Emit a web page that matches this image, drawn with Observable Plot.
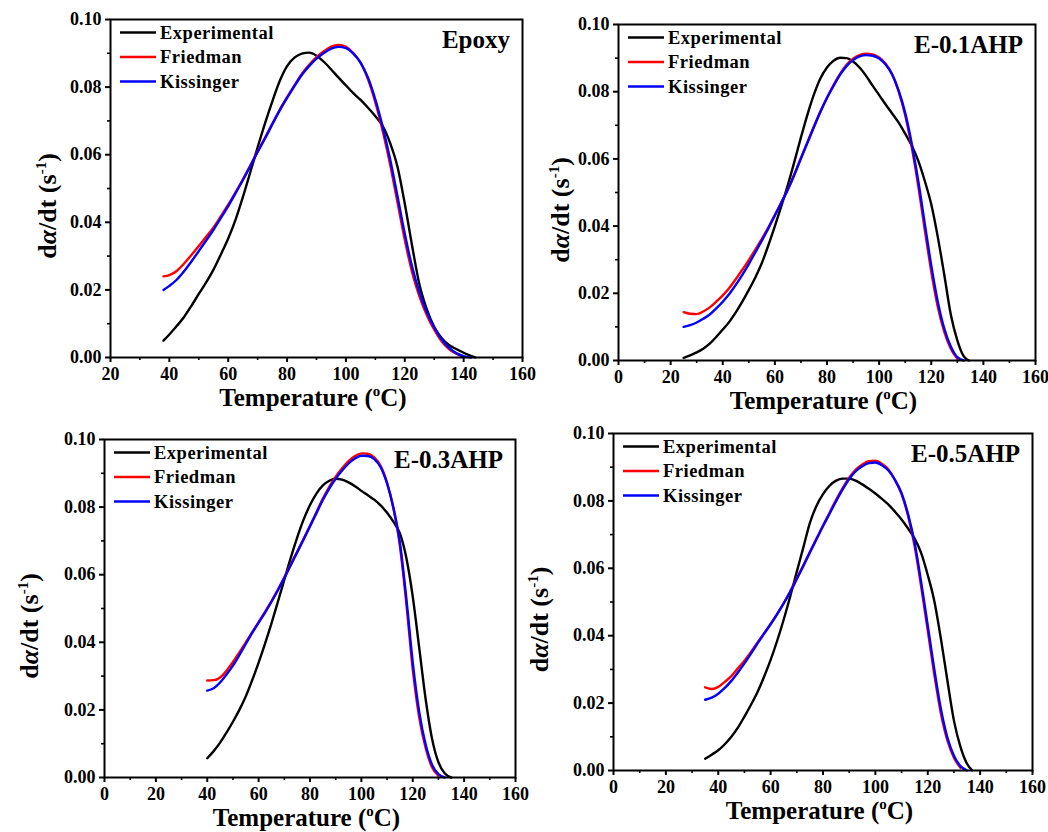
<!DOCTYPE html>
<html><head><meta charset="utf-8">
<script src="https://cdn.jsdelivr.net/npm/d3@7"></script>
<script src="https://cdn.jsdelivr.net/npm/@observablehq/plot@0.6"></script>
<style>
html,body{margin:0;padding:0;background:#fff;}
#root{position:relative;width:1048px;height:832px;overflow:hidden;background:#fff;}
.panel{position:absolute;}
.panel svg{overflow:visible;background:transparent !important;max-width:none !important;}
</style></head><body><div id="root"></div>
<script>
// ---------------- DATA ----------------
const seriesNames = ["Experimental", "Friedman", "Kissinger"];
const seriesColors = ["#000000", "#ff0000", "#0000ff"];
const yMajor = [0, 0.02, 0.04, 0.06, 0.08, 0.10];
const yMinor = [0.01, 0.03, 0.05, 0.07, 0.09];
const xMajorA = [20, 40, 60, 80, 100, 120, 140, 160];
const xMinorA = [30, 50, 70, 90, 110, 130, 150];
const xMajorB = [0, 20, 40, 60, 80, 100, 120, 140, 160];
const xMinorB = [10, 30, 50, 70, 90, 110, 130, 150];
const panelTitles = ["Epoxy", "E-0.1AHP", "E-0.3AHP", "E-0.5AHP"];

// Epoxy
const epoxyT = [38,40,42.5,45,47.5,50,52.5,55,57.5,60,62.5,65,67.5,70,72.5,75,77.5,80,82.5,85,87.5,90,92.5,95,97.5,100,102.5,105,107.5,110,112.5,115,117.5,120,122.5,125,127.5,130,132.5,135,137.5,140,142.5,144];
const epoxyExp = [.0050,.0068,.0093,.0120,.0153,.0188,.0222,.0260,.0305,.0352,.0408,.0475,.0548,.0622,.0693,.0758,.0818,.0862,.0887,.0899,.0902,.0893,.0875,.0852,.0828,.0805,.0782,.0762,.0739,.0714,.0685,.0635,.0565,.0455,.0330,.0215,.0142,.0090,.0058,.0037,.0025,.0014,.0005,.0000];
const epoxyFried = [.0240,.0244,.0256,.0278,.0303,.0330,.0357,.0385,.0418,.0452,.0489,.0527,.0568,.0610,.0650,.0692,.0733,.0770,.0805,.0839,.0866,.0889,.0906,.0920,.0925,.0919,.0901,.0872,.0823,.0755,.0670,.0572,.0460,.0348,.0252,.0180,.0125,.0082,.0048,.0025,.0011,.0002,null,null];
const epoxyKiss = [.0200,.0212,.0230,.0255,.0284,.0315,.0346,.0378,.0413,.0448,.0486,.0525,.0566,.0608,.0648,.0690,.0731,.0768,.0803,.0836,.0862,.0884,.0901,.0914,.0919,.0915,.0899,.0872,.0828,.0763,.0682,.0587,.0478,.0366,.0268,.0192,.0134,.0089,.0054,.0029,.0013,.0004,.0000,null];

// E-0.1AHP
const e01T = [25,27.5,30,32.5,35,37.5,40,42.5,45,47.5,50,52.5,55,57.5,60,62.5,65,67.5,70,72.5,75,77.5,80,82.5,85,87.5,90,92.5,95,97.5,100,102.5,105,107.5,110,112.5,115,117.5,120,122.5,125,127.5,130,132.5,134.5];
const e01Exp = [.0008,.0015,.0024,.0035,.0050,.0070,.0092,.0115,.0143,.0175,.0210,.0247,.0290,.0343,.0400,.0460,.0523,.0592,.0664,.0732,.0792,.0840,.0872,.0892,.0901,.0900,.0890,.0872,.0847,.0818,.0790,.0762,.0735,.0708,.0675,.0640,.0595,.0535,.0465,.0368,.0255,.0137,.0060,.0012,.0000];
const e01Fried = [.0144,.0139,.0138,.0146,.0158,.0175,.0194,.0216,.0242,.0270,.0299,.0330,.0362,.0396,.0433,.0471,.0510,.0555,.0603,.0650,.0697,.0742,.0783,.0820,.0853,.0880,.0898,.0909,.0913,.0911,.0902,.0883,.0852,.0800,.0730,.0635,.0520,.0390,.0265,.0160,.0085,.0035,.0005,null,null];
const e01Kiss = [.0100,.0105,.0113,.0124,.0137,.0155,.0175,.0198,.0225,.0255,.0287,.0322,.0357,.0393,.0432,.0470,.0509,.0553,.0601,.0648,.0695,.0740,.0781,.0817,.0850,.0876,.0894,.0905,.0909,.0907,.0899,.0881,.0851,.0803,.0737,.0646,.0535,.0408,.0283,.0175,.0095,.0042,.0010,.0000,null];

// E-0.3AHP
const e03T = [40,42.5,45,47.5,50,52.5,55,57.5,60,62.5,65,67.5,70,72.5,75,77.5,80,82.5,85,87.5,90,92.5,95,97.5,100,102.5,105,107.5,110,112.5,115,117.5,120,122.5,125,127.5,130,132.5,135];
const e03Exp = [.0057,.0078,.0103,.0133,.0165,.0200,.0240,.0288,.0340,.0396,.0456,.0520,.0585,.0650,.0710,.0763,.0806,.0840,.0864,.0878,.0884,.0881,.0873,.0862,.0848,.0835,.0822,.0805,.0783,.0756,.0722,.0650,.0535,.0385,.0233,.0115,.0045,.0012,.0000];
const e03Fried = [.0287,.0288,.0296,.0316,.0342,.0370,.0400,.0430,.0460,.0490,.0522,.0556,.0592,.0630,.0668,.0706,.0745,.0785,.0825,.0860,.0890,.0915,.0936,.0951,.0959,.0958,.0947,.0922,.0872,.0795,.0685,.0515,.0320,.0178,.0088,.0030,.0005,null,null];
const e03Kiss = [.0257,.0264,.0281,.0305,.0331,.0362,.0395,.0428,.0458,.0488,.0520,.0554,.0590,.0628,.0666,.0704,.0743,.0782,.0821,.0855,.0884,.0908,.0929,.0944,.0952,.0951,.0942,.0918,.0870,.0797,.0695,.0530,.0340,.0195,.0098,.0038,.0010,.0000,null];

// E-0.5AHP
const e05T = [35,37.5,40,42.5,45,47.5,50,52.5,55,57.5,60,62.5,65,67.5,70,72.5,75,77.5,80,82.5,85,87.5,90,92.5,95,97.5,100,102.5,105,107.5,110,112.5,115,117.5,120,122.5,125,127.5,130,132.5,135,137];
const e05Exp = [.0035,.0047,.0060,.0078,.0100,.0127,.0160,.0195,.0233,.0278,.0328,.0385,.0448,.0517,.0590,.0662,.0735,.0785,.0820,.0845,.0860,.0866,.0866,.0860,.0849,.0836,.0822,.0806,.0789,.0768,.0745,.0718,.0688,.0645,.0580,.0503,.0392,.0267,.0148,.0070,.0020,.0000];
const e05Fried = [.0247,.0242,.0248,.0263,.0280,.0303,.0326,.0352,.0380,.0407,.0435,.0465,.0497,.0532,.0570,.0609,.0649,.0688,.0727,.0765,.0803,.0838,.0869,.0893,.0908,.0918,.0919,.0910,.0893,.0862,.0820,.0755,.0665,.0545,.0415,.0285,.0170,.0089,.0038,.0008,null,null];
const e05Kiss = [.0210,.0216,.0228,.0245,.0266,.0291,.0318,.0347,.0377,.0406,.0434,.0464,.0496,.0530,.0568,.0607,.0647,.0686,.0725,.0762,.0799,.0834,.0865,.0888,.0903,.0912,.0914,.0906,.0890,.0862,.0823,.0760,.0675,.0558,.0430,.0300,.0183,.0098,.0044,.0013,.0000,null];

// ---------------- LAYOUT ----------------
const FONT = "Liberation Serif";
const panels = [
  {left:0, top:0, width:530, height:420, ml:110, mr:8, mt:19, mb:63, xDomain:[20,160], xMajor:xMajorA, xMinor:xMinorA, yLabX:47,
   T:epoxyT, series:[epoxyExp, epoxyFried, epoxyKiss], title:panelTitles[0]},
  {left:530, top:0, width:518, height:420, ml:88, mr:13, mt:24, mb:60, xDomain:[0,160], xMajor:xMajorB, xMinor:xMinorB, yLabX:30,
   T:e01T, series:[e01Exp, e01Fried, e01Kiss], title:panelTitles[1]},
  {left:0, top:420, width:530, height:412, ml:104, mr:15, mt:19, mb:55, xDomain:[0,160], xMajor:xMajorB, xMinor:xMinorB, yLabX:29,
   T:e03T, series:[e03Exp, e03Fried, e03Kiss], title:panelTitles[2]},
  {left:530, top:420, width:518, height:412, ml:83, mr:16, mt:13, mb:62, xDomain:[0,160], xMajor:xMajorB, xMinor:xMinorB, yLabX:9,
   T:e05T, series:[e05Exp, e05Fried, e05Kiss], title:panelTitles[3]}
];

const root = document.getElementById("root");
const fmt = d3.format(".2f");

panels.forEach(p => {
  const lineMarks = p.series.map((vals, si) => {
    const rows = p.T.map((t, i) => ({T: t, v: vals[i]})).filter(d => d.v != null);
    return Plot.line(rows, {x: "T", y: "v", stroke: seriesColors[si], strokeWidth: 2.4, curve: "monotone-x"});
  });
  const svg = Plot.plot({
    width: p.width, height: p.height,
    marginLeft: p.ml, marginRight: p.mr, marginTop: p.mt, marginBottom: p.mb,
    x: {domain: p.xDomain, label: null},
    y: {domain: [0, 0.1], label: null},
    style: {fontFamily: FONT, fontSize: "18px", color: "#000", background: "transparent"},
    marks: [
      Plot.axisX(p.xMajor, {tickSize: 5, tickPadding: 5, strokeWidth: 2, fontSize: 18, fontWeight: "bold", tickFormat: d => String(d), label: null}),
      Plot.axisX(p.xMinor, {tickSize: 3, strokeWidth: 1.6, tickFormat: () => "", label: null}),
      Plot.axisY(yMajor, {tickSize: 5, tickPadding: 4, strokeWidth: 2, fontSize: 18, fontWeight: "bold", tickFormat: fmt, label: null}),
      Plot.axisY(yMinor, {tickSize: 3, strokeWidth: 1.6, tickFormat: () => "", label: null}),
      ...lineMarks,
      Plot.frame({stroke: "#000", strokeWidth: 2})
    ]
  });
  const div = document.createElement("div");
  div.className = "panel";
  div.style.left = p.left + "px";
  div.style.top = p.top + "px";
  div.appendChild(svg);
  root.appendChild(div);

  const s = d3.select(svg);
  const fl = p.ml, fr = p.width - p.mr, ft = p.mt, fb = p.height - p.mb;

  // x axis title
  const xt = s.append("text").attr("x", (fl + fr) / 2 - 3).attr("y", fb + 49)
    .attr("text-anchor", "middle").style("font-size", "25px");
  xt.append("tspan").text("Temperature (");
  xt.append("tspan").text("o").attr("dy", -10).style("font-size", "15px");
  xt.append("tspan").text("C)").attr("dy", 10);

  // y axis title
  const yc = (ft + fb) / 2 + 18;
  const yt = s.append("text").attr("transform", `translate(${p.yLabX + 9},${yc}) rotate(-90)`)
    .attr("text-anchor", "middle").style("font-size", "26px");
  yt.append("tspan").text("d");
  yt.append("tspan").text("α").style("font-style", "italic");
  yt.append("tspan").text("/dt (s");
  yt.append("tspan").text("-1").attr("dy", -10).style("font-size", "15px");
  yt.append("tspan").text(")").attr("dy", 10);

  // panel title
  s.append("text").attr("x", fr - 12).attr("y", ft + 29).attr("text-anchor", "end")
    .style("font-size", "25px").text(p.title);

  // legend
  seriesNames.forEach((name, i) => {
    const yy = ft + 13.5 + i * 24.5;
    s.append("line").attr("x1", fl + 10).attr("x2", fl + 46).attr("y1", yy).attr("y2", yy)
      .attr("stroke", seriesColors[i]).attr("stroke-width", 2.6);
    s.append("text").attr("x", fl + 50).attr("y", yy).attr("dy", "0.35em").attr("text-anchor", "start")
      .style("font-size", "18.5px").style("letter-spacing", "0.5px").text(name);
  });

  // bold serif on every text element (tick labels included)
  s.selectAll("text").style("font-family", FONT).style("font-weight", "bold").style("fill", "#000");
});
</script>
</body></html>
